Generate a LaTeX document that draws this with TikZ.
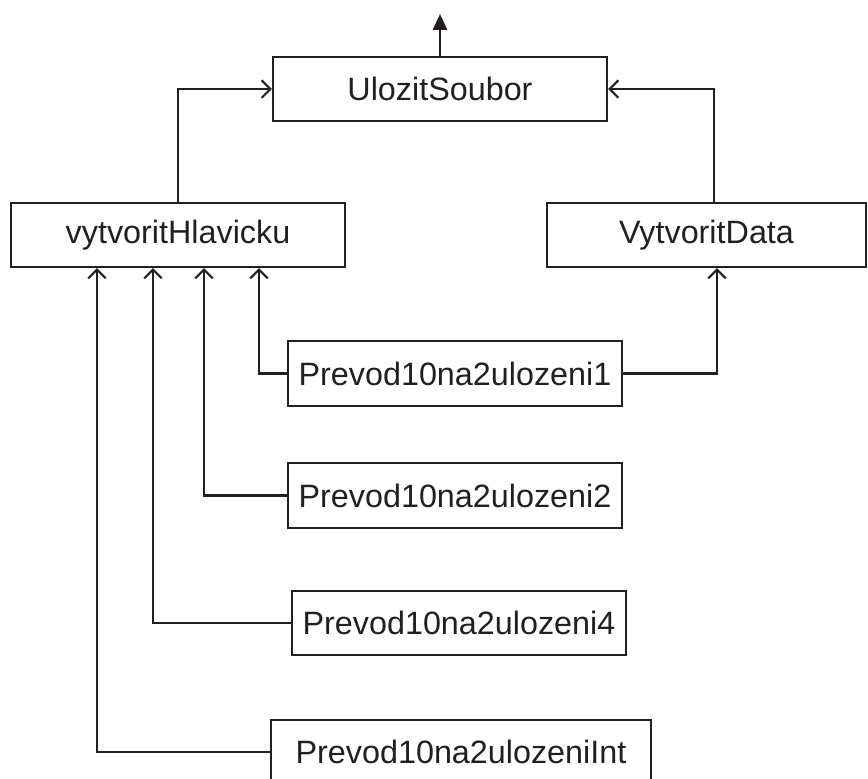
\documentclass[tikz,border=0pt]{standalone}
\usepackage{fontspec}
\setmainfont{Liberation Sans}
\usetikzlibrary{arrows.meta}
\definecolor{ink}{HTML}{231F20}

\begin{document}
\begin{tikzpicture}[x=0.02cm,y=-0.02cm,
  box/.style={draw=ink,line width=1.2pt,minimum width=6.68cm,minimum height=1.28cm,
    inner sep=0pt,text=ink,font=\fontsize{18.4}{22}\selectfont},
  link/.style={draw=ink,line width=1.2pt,-{Straight Barb[length=5pt,width=10pt]}}]
\useasboundingbox (0,0) rectangle (868,778);

\node[box] (save) at (440,89) {UlozitSoubor};
\node[box] (head) at (178,235) {vytvoritHlavicku};
\node[box,minimum width=6.38cm] (data) at (706.5,235) {VytvoritData};

\node[box,minimum height=1.3cm] (p1) at (455,373.5) {Prevod10na2ulozeni1};
\node[box,minimum height=1.3cm] (p2) at (455,495.5) {Prevod10na2ulozeni2};
\node[box] (p4) at (459,623) {Prevod10na2ulozeni4};
\node[box,minimum width=7.6cm] (pint) at (461,752) {Prevod10na2ulozeniInt};

\coordinate (out) at (440,14);
\draw[draw=ink,line width=1.2pt,-{Triangle[length=9pt,width=8pt]}] (save.north) -- (out);

\draw[link] (head.north) |- (save.west);
\draw[link] ([xshift=0.15cm]data.north) |- (save.east);

\draw[link] (p1.west) -| ([xshift=1.62cm]head.south);
\draw[link] (p2.west) -| ([xshift=0.52cm]head.south);
\draw[link] (p4.west) -| ([xshift=-0.5cm]head.south);
\draw[link] (pint.west) -| ([xshift=-1.62cm]head.south);
\draw[link] (p1.east) -| ([xshift=0.21cm]data.south);
\end{tikzpicture}
\end{document}
